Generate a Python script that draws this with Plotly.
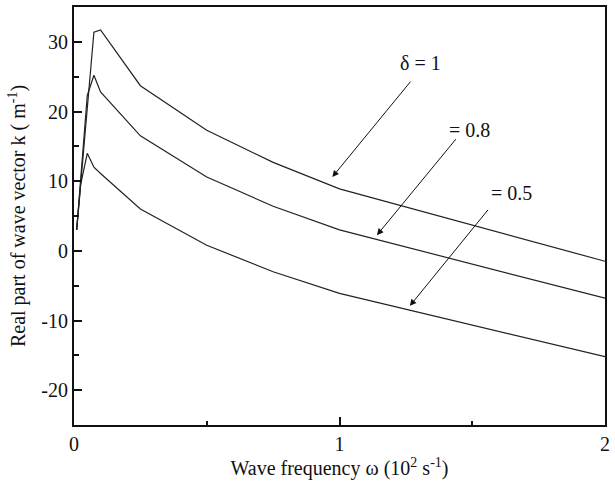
import plotly.graph_objects as go

# Wave frequency omega (10^2 s^-1)
omega = [0.01, 0.025, 0.05, 0.075, 0.1, 0.25, 0.5, 0.75, 1.0, 2.0]

# Real part of wave vector k (m^-1) for each delta
k_delta_1 = [3.0, 9.6, 20.5, 31.4, 31.7, 23.7, 17.3, 12.7, 8.9, -1.5]
k_delta_08 = [3.0, 10.0, 22.3, 25.2, 22.8, 16.5, 10.6, 6.4, 3.0, -6.8]
k_delta_05 = [3.0, 9.5, 14.0, 12.0, 11.1, 6.0, 0.8, -3.0, -6.1, -15.2]

series = [
    ("δ = 1", k_delta_1),
    ("δ = 0.8", k_delta_08),
    ("δ = 0.5", k_delta_05),
]

y_tick_vals = [-20, -10, 0, 10, 20, 30]
y_tick_text = ["-20", "-10", "0", "10", "20", "30"]
x_tick_vals = [0, 1, 2]
x_tick_text = ["0", "1", "2"]

FONT = "'Liberation Serif', 'Times New Roman', Times, serif"

fig = go.Figure()
for name, k in series:
    fig.add_trace(go.Scatter(
        x=omega, y=k, mode="lines", name=name,
        line=dict(color="#222222", width=1.2),
        showlegend=False,
    ))

# Curve labels with pointer arrows: (text, text pos, arrow tail, arrow tip)
labels = [
    ("δ = 1", (1.305, 27.0), (1.272, 24.5), (0.973, 10.6)),
    ("= 0.8", (1.488, 17.4), (1.443, 16.25), (1.141, 2.25)),
    ("= 0.5", (1.649, 8.3), (1.564, 6.1), (1.265, -7.9)),
]
for text, (tx, ty), (ax, ay), (hx, hy) in labels:
    fig.add_annotation(x=tx, y=ty, text=text, showarrow=False,
                       font=dict(family=FONT, size=20, color="#111111"))
    fig.add_annotation(x=hx, y=hy, ax=ax, ay=ay, xref="x", yref="y",
                       axref="x", ayref="y", text="", showarrow=True,
                       arrowhead=2, arrowsize=1.3, arrowwidth=1,
                       arrowcolor="#111111")

axis_common = dict(
    showline=True, linecolor="#111111", linewidth=2, mirror=True,
    ticks="inside", tickcolor="#111111", tickwidth=1.5, ticklen=8,
    showgrid=False, zeroline=False,
    tickfont=dict(family=FONT, size=20, color="#111111"),
)

fig.update_xaxes(
    range=[0, 2], tickvals=x_tick_vals, ticktext=x_tick_text,
    minor=dict(ticks="inside", dtick=0.5, ticklen=4, tickcolor="#111111", tickwidth=1.5),
    title=dict(text="Wave frequency ω (10<sup>2</sup> s<sup>-1</sup>)",
               font=dict(family=FONT, size=20, color="#111111"), standoff=2),
    **axis_common,
)
fig.update_yaxes(
    range=[-25, 35], tickvals=y_tick_vals, ticktext=y_tick_text,
    minor=dict(ticks="inside", dtick=5, ticklen=5, tickcolor="#111111", tickwidth=1.5),
    title=dict(text="Real part of wave vector k ( m<sup>-1</sup>)",
               font=dict(family=FONT, size=20, color="#111111"), standoff=10),
    **axis_common,
)

fig.update_layout(
    width=615, height=482,
    margin=dict(l=74, r=5, t=6, b=57),
    plot_bgcolor="white", paper_bgcolor="white",
    font=dict(family=FONT),
)

fig.write_html("out.html")
